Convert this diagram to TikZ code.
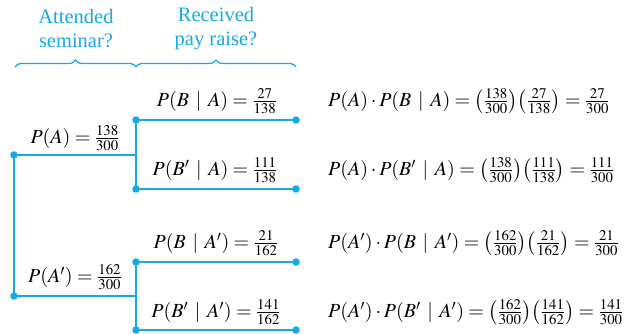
\documentclass[tikz,border=0pt]{standalone}
\usepackage{mathptmx}
\usepackage{fontspec}
\setmainfont{Liberation Serif}
\usetikzlibrary{decorations.pathreplacing}
\definecolor{tcyan}{RGB}{20,170,230}
\newcommand{\gv}{\,\mid\,}
\begin{document}
\begin{tikzpicture}[x=1pt,y=1pt,
  br/.style={tcyan,line width=1.6pt},
  dot/.style={circle,fill=tcyan,inner sep=0pt,minimum size=7.5pt},
  lbl/.style={inner sep=0pt,font=\fontsize{20}{24}\selectfont},
  hdr/.style={inner sep=0pt,align=center,text=tcyan,font=\fontsize{20.5}{24}\selectfont},
  brc/.style={tcyan,line width=1.2pt,decorate,decoration={brace,amplitude=7pt}}]
\useasboundingbox (0,0) rectangle (637,333);
% nodes
\node[dot] (r1) at (14,178) {};
\node[dot] (r2) at (14,37) {};
\coordinate (j1) at (136,178);
\coordinate (j2) at (136,37);
\node[dot] (b1) at (136,213) {};
\node[dot] (b2) at (136,144) {};
\node[dot] (b3) at (136,71) {};
\node[dot] (b4) at (136,3) {};
\node[dot] (e1) at (296,213) {};
\node[dot] (e2) at (296,144) {};
\node[dot] (e3) at (296,71) {};
\node[dot] (e4) at (296,3) {};
% lines
\draw[br] (r1.center) -- (r2.center);
\draw[br] (r1.center) -- (j1);
\draw[br] (r2.center) -- (j2);
\draw[br] (b1.center) -- (b2.center);
\draw[br] (b3.center) -- (b4.center);
\draw[br] (b1.center) -- (e1.center);
\draw[br] (b2.center) -- (e2.center);
\draw[br] (b3.center) -- (e3.center);
\draw[br] (b4.center) -- (e4.center);
% branch labels
\node[lbl] (la) at (75,195) {$P(A)=\frac{138}{300}$};
\node[lbl] (lna) at (75,56) {$P(A')=\frac{162}{300}$};
\node[lbl] (l1) at (217,232) {$P(B\gv A)=\frac{27}{138}$};
\node[lbl] (l2) at (215,163) {$P(B'\gv A)=\frac{111}{138}$};
\node[lbl] (l3) at (216,90) {$P(B\gv A')=\frac{21}{162}$};
\node[lbl] (l4) at (216,21) {$P(B'\gv A')=\frac{141}{162}$};
% products
\node[lbl,anchor=west] (p1) at (328,232) {$P(A)\cdot P(B\gv A)=\left(\frac{138}{300}\right)\!\left(\frac{27}{138}\right)=\frac{27}{300}$};
\node[lbl,anchor=west] (p2) at (328,163) {$P(A)\cdot P(B'\gv A)=\left(\frac{138}{300}\right)\!\left(\frac{111}{138}\right)=\frac{111}{300}$};
\node[lbl,anchor=west] (p3) at (328,90) {$P(A')\cdot P(B\gv A')=\left(\frac{162}{300}\right)\!\left(\frac{21}{162}\right)=\frac{21}{300}$};
\node[lbl,anchor=west] (p4) at (328,21) {$P(A')\cdot P(B'\gv A')=\left(\frac{162}{300}\right)\!\left(\frac{141}{162}\right)=\frac{141}{300}$};
% headers
\node[hdr] (h1) at (76,304) {Attended\\seminar?};
\node[hdr] (h2) at (216,304) {Received\\pay raise?};
\coordinate (c0) at (15,266);
\coordinate (c1) at (136,266);
\coordinate (c2) at (296,266);
\draw[brc] (c0) -- (c1);
\draw[brc] (c1) -- (c2);
\end{tikzpicture}
\end{document}
